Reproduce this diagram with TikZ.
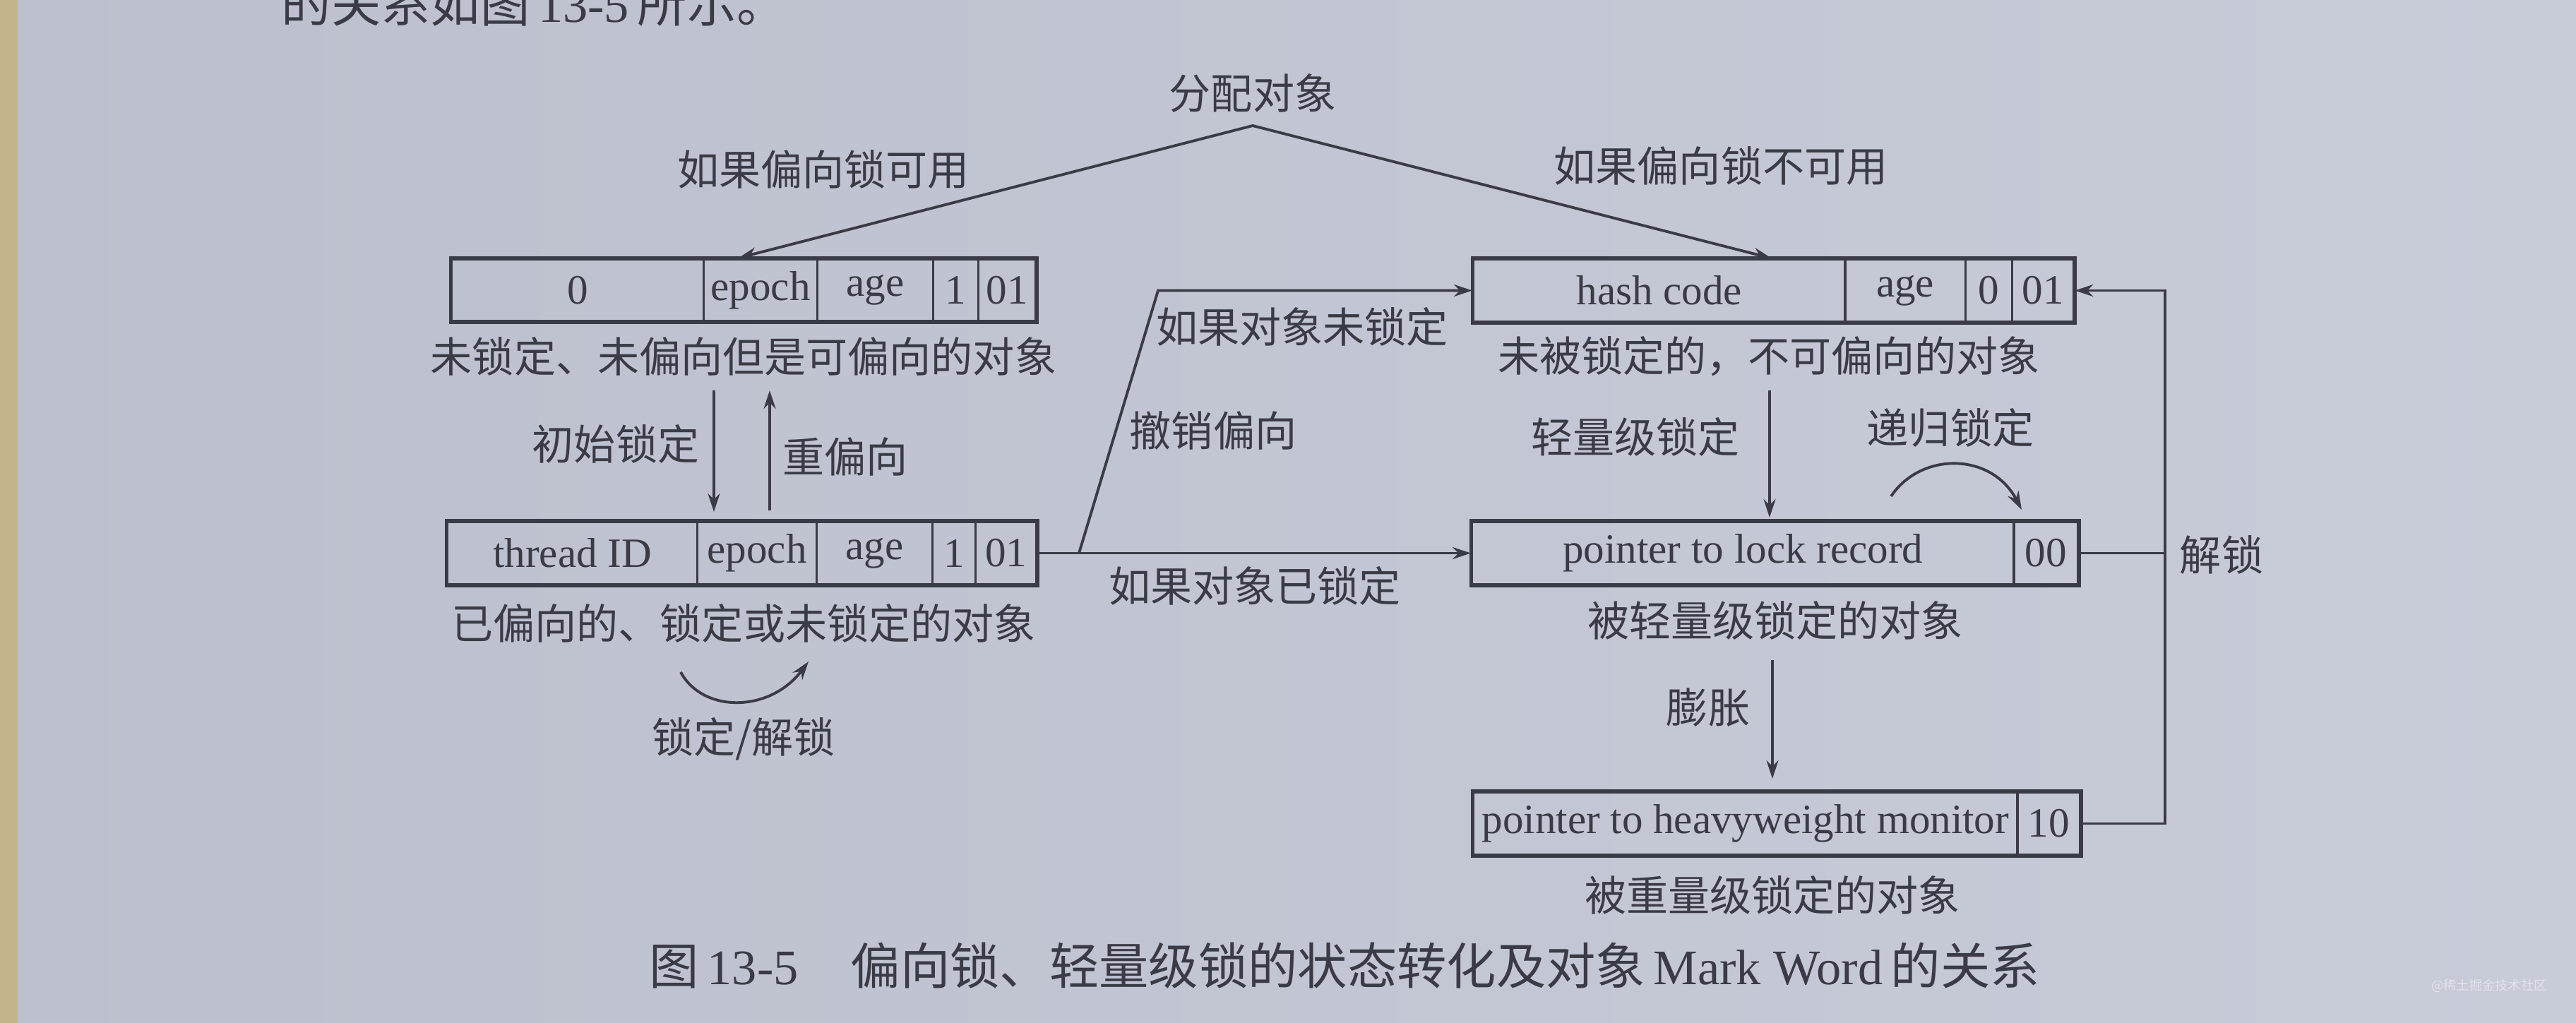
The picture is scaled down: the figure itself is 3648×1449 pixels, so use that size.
\documentclass[tikz,border=0pt]{standalone}
\usepackage{fontspec}
\setmainfont{Liberation Serif}
\newfontfamily\cjk{Noto Sans CJK SC}
\usetikzlibrary{arrows.meta}
\definecolor{ink}{HTML}{3A3B46}
\definecolor{paper}{HTML}{BCBFCD}
\definecolor{paperlight}{HTML}{C8CBD8}
\definecolor{edgestrip}{HTML}{C4B48C}
\definecolor{wm}{HTML}{E2E4EC}
\tikzset{
  cell/.style={draw=ink, line width=0.9pt, minimum height=0.88cm, inner sep=0pt,
    anchor=west, text=ink, font=\fontsize{16.8}{18}\selectfont},
  frame/.style={draw=ink, line width=1.4pt},
  lab/.style={text=ink, inner sep=0pt, font=\cjk\fontsize{16.8}{18}\selectfont},
  captext/.style={text=ink, inner sep=0pt, font=\fontsize{20}{22}\selectfont},
  arr/.style={draw=ink, line width=1.1pt, -{Stealth[length=0.26cm,width=0.17cm]}},
  arrboth/.style={draw=ink, line width=1.1pt, {Stealth[length=0.26cm,width=0.17cm]}-{Stealth[length=0.26cm,width=0.17cm]}},
  plain/.style={draw=ink, line width=1.1pt}
}
\begin{document}
\begin{tikzpicture}[x=0.01cm,y=-0.01cm]
\useasboundingbox (0,0) rectangle (3648,1449);
\shade[left color=paper, right color=paperlight] (0,0) rectangle (3648,1449);
\fill[edgestrip] (0,0) rectangle (25,1449);

% top fragment of book text (cut by the page edge, as in the photo)
\node[captext, anchor=base west] (frag) at (398,32) {{\cjk 的关系如图}\,13-5\,{\cjk 所示。}};

% box 1: unlocked, unbiased but biasable
\node[cell, minimum width=3.57cm] (b1a) at (638,411) {0};
\node[cell, minimum width=1.61cm] (b1b) at (995,411) {epoch};
\node[cell, minimum width=1.64cm] (b1c) at (1156,411) {age};
\node[cell, minimum width=0.64cm] (b1d) at (1320,411) {1};
\node[cell, minimum width=0.81cm] (b1e) at (1384,411) {01};
\draw[frame] (b1a.north west) rectangle (b1e.south east);

% box 2: biased
\node[cell, minimum width=3.54cm] (b2a) at (632,783.5) {thread ID};
\node[cell, minimum width=1.69cm] (b2b) at (986,783.5) {epoch};
\node[cell, minimum width=1.64cm] (b2c) at (1155,783.5) {age};
\node[cell, minimum width=0.61cm] (b2d) at (1319,783.5) {1};
\node[cell, minimum width=0.86cm] (b2e) at (1380,783.5) {01};
\draw[frame] (b2a.north west) rectangle (b2e.south east);

% box 3: unlocked, not biasable
\node[cell, minimum width=5.26cm] (b3a) at (2085,411.5) {hash code};
\node[cell, minimum width=1.71cm] (b3b) at (2611,411.5) {age};
\node[cell, minimum width=0.66cm] (b3c) at (2782,411.5) {0};
\node[cell, minimum width=0.87cm] (b3d) at (2848,411.5) {01};
\draw[frame] (b3a.north west) rectangle (b3d.south east);

% box 4: lightweight locked
\node[cell, minimum width=7.67cm] (b4a) at (2083,783.5) {pointer to lock record};
\node[cell, minimum width=0.91cm] (b4b) at (2850,783.5) {00};
\draw[frame] (b4a.north west) rectangle (b4b.south east);

% box 5: heavyweight locked
\node[cell, minimum width=7.70cm] (b5a) at (2085,1166.5) {pointer to heavyweight monitor};
\node[cell, minimum width=0.89cm] (b5b) at (2855,1166.5) {10};
\draw[frame] (b5a.north west) rectangle (b5b.south east);

% labels
\node[lab] (lalloc) at (1774,132) {分配对象};
\node[lab] (lbok) at (1166,240) {如果偏向锁可用};
\node[lab] (lbno) at (2437,235) {如果偏向锁不可用};
\node[lab] (l1) at (1053,505) {未锁定、未偏向但是可偏向的对象};
\node[lab] (linit) at (872,629) {初始锁定};
\node[lab] (lrebias) at (1197,647) {重偏向};
\node[lab] (l2) at (1053,883) {已偏向的、锁定或未锁定的对象};
\node[lab] (llock) at (1053,1047) {锁定/解锁};
\node[lab] (lunl) at (1844,463) {如果对象未锁定};
\node[lab] (lrev) at (1718,610) {撤销偏向};
\node[lab] (lisl) at (1777,830) {如果对象已锁定};
\node[lab] (l3) at (2505,505) {未被锁定的，不可偏向的对象};
\node[lab] (llight) at (2316,619) {轻量级锁定};
\node[lab] (lrec) at (2762,606) {递归锁定};
\node[lab] (l4) at (2514,879) {被轻量级锁定的对象};
\node[lab] (linfl) at (2419,1002) {膨胀};
\node[lab] (l5) at (2510,1268) {被重量级锁定的对象};
\node[lab] (lunlock) at (3146,786) {解锁};

% caption
\node[captext, anchor=west] (caption) at (919,1368)
  {{\cjk 图}\,13-5\hspace{0.74cm}{\cjk 偏向锁、轻量级锁的状态转化及对象}\,Mark Word\,{\cjk 的关系}};

% watermark
\node[text=wm, inner sep=0pt, font=\cjk\fontsize{5.2}{6}\selectfont] (wmk) at (3525,1396) {@稀土掘金技术社区};

% coordinates
\coordinate (apex) at (1774,178);
\coordinate (a1s) at (1011,553);
\coordinate (a1e) at (1011,725);
\coordinate (a2s) at (1090,723);
\coordinate (a2e) at (1090,553);
\coordinate (br) at (1528,783.5);
\coordinate (bc) at (1640,411.5);
\coordinate (a3s) at (2506,553);
\coordinate (a3e) at (2506,733);
\coordinate (r1s) at (2678,703);
\coordinate (r1e) at (2863,722);
\coordinate (a4s) at (2510,935);
\coordinate (a4e) at (2510,1103);
\coordinate (rc) at (3066,411.5);
\coordinate (c1s) at (964,952);
\coordinate (c1e) at (1145,937);

% connectors
\draw[arrboth, line join=miter] ([xshift=-0.315cm]b1b.north) -- (apex) -- ([xshift=1.59cm]b3a.north);
\draw[arr] (a1s) -- (a1e);
\draw[arr] (a2s) -- (a2e);
\draw[arr] (b2e.east) -- (b4a.west);
\draw[arr] (br) -- (bc) -- (b3a.west);
\draw[arr] (a3s) -- (a3e);
\draw[arr] (r1s) .. controls (2720,640) and (2820,640) .. (r1e);
\draw[arr] (a4s) -- (a4e);
\draw[plain] (b4b.east) -- (b4b.east -| rc);
\draw[arr] (b5b.east) -| (rc) -- (b3d.east);
\draw[arr] (c1s) .. controls (995,1010) and (1090,1010) .. (c1e);
\end{tikzpicture}
\end{document}
